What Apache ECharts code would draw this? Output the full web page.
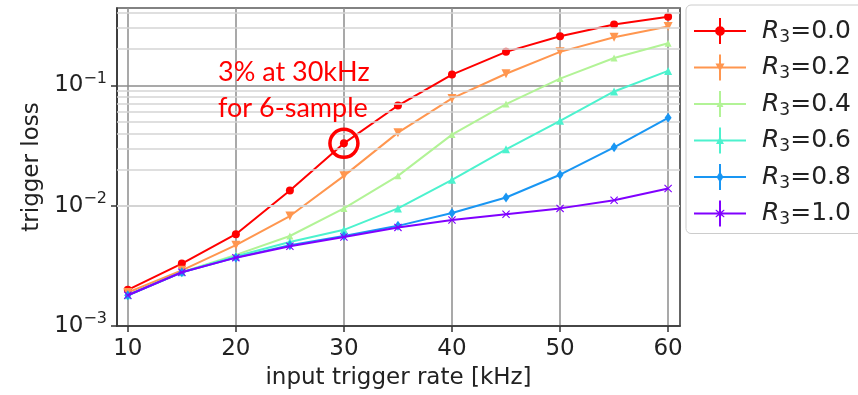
<!DOCTYPE html>
<html>
<head>
<meta charset="utf-8">
<script src="https://cdn.jsdelivr.net/npm/echarts@6/dist/echarts.min.js"></script>
<style>
html, body { margin: 0; padding: 0; background: #fff; }
#chart { width: 858px; height: 395px; }
</style>
</head>
<body>
<div id="chart"></div>
<script>
// input trigger rate (kHz)
var rates = [10, 15, 20, 25, 30, 35, 40, 45, 50, 55, 60];
var xTicks = [10, 20, 30, 40, 50, 60];
var names = ['0.0', '0.2', '0.4', '0.6', '0.8', '1.0'];

// trigger loss, one list per R3 value
var loss00 = [0.0020, 0.0033, 0.0058, 0.0134, 0.033, 0.068, 0.123, 0.190, 0.256, 0.321, 0.372];
var loss02 = [0.0019, 0.0029, 0.0047, 0.0082, 0.0177, 0.0405, 0.078, 0.125, 0.190, 0.251, 0.309];
var loss04 = [0.0018, 0.0028, 0.0039, 0.0056, 0.0095, 0.0177, 0.039, 0.070, 0.114, 0.169, 0.224];
var loss06 = [0.0018, 0.0028, 0.0038, 0.0050, 0.0063, 0.0095, 0.0164, 0.0294, 0.0508, 0.089, 0.132];
var loss08 = [0.0018, 0.0028, 0.0037, 0.0047, 0.0056, 0.0068, 0.0087, 0.0117, 0.0181, 0.0306, 0.0538];
var loss10 = [0.0018, 0.0028, 0.0037, 0.0046, 0.0055, 0.0066, 0.0076, 0.0085, 0.0095, 0.0111, 0.0139];

// minor log grid lines
var minorY = [0.002, 0.003, 0.004, 0.005, 0.006, 0.007, 0.008, 0.009,
              0.02, 0.03, 0.04, 0.05, 0.06, 0.07, 0.08, 0.09,
              0.2, 0.3, 0.4];

var colors = ['#ff0000', '#ff964f', '#b2f396', '#4cf2ce', '#1996f3', '#8000ff'];
var lists = [loss00, loss02, loss04, loss06, loss08, loss10];

var xMark = 'path://M1,0L5,4L9,0L10,1L6,5L10,9L9,10L5,6L1,10L0,9L4,5L0,1Z';
var symbols = ['circle', 'triangle', 'triangle', 'triangle', 'diamond', xMark];
var symbolSizes = [8, 9, 7, 8, [7, 10], 8];
var rotates = [0, 180, 0, 0, 0, 0];

// legend icons: errorbar cross + marker
var bar = 'M0,12L52,12L52,14L0,14Z M25,0L27,0L27,26L25,26Z';
var icons = [
    'path://' + bar + ' M26,8L28.5,8.7L30.3,10.5L31,13L30.3,15.5L28.5,17.3L26,18L23.5,17.3L21.7,15.5L21,13L21.7,10.5L23.5,8.7Z',
    'path://' + bar + ' M21.5,9L30.5,9L26,17Z',
    'path://' + bar + ' M26,9.5L29.5,16L22.5,16Z',
    'path://' + bar + ' M26,9L30,16.5L22,16.5Z',
    'path://' + bar + ' M26,7.5L29.5,13L26,18.5L22.5,13Z',
    'path://' + bar + ' M22,9L26,12L30,9L30.5,10L27,13L30.5,16L30,17L26,14L22,17L21.5,16L25,13L21.5,10Z'
];

var series = [{
    name: 'grid',
    type: 'line',
    data: [],
    silent: true,
    z: 1,
    markLine: {
        silent: true,
        symbol: 'none',
        label: { show: false },
        lineStyle: { color: '#d4d4d4', width: 1.5, type: 'solid' },
        data: minorY.map(function (v) { return { yAxis: v }; })
    }
}];

for (var i = 0; i < lists.length; i++) {
    series.push({
        name: 'R3=' + names[i],
        type: 'line',
        data: rates.map(function (r, j) { return [r, this[j]]; }, lists[i]),
        symbol: symbols[i],
        symbolSize: symbolSizes[i],
        symbolRotate: rotates[i],
        showSymbol: true,
        lineStyle: { color: colors[i], width: 2 },
        itemStyle: { color: colors[i] },
        z: 3 + i
    });
}

// highlight circle at 30 kHz
series[1].markPoint = {
    silent: true,
    symbol: 'circle',
    symbolSize: 28,
    itemStyle: { color: 'rgba(0,0,0,0)', borderColor: '#ff0000', borderWidth: 3.5 },
    label: { show: false },
    data: [{ coord: [30, loss00[4]] }]
};

var myChart = echarts.init(document.getElementById('chart'));
var option = {
    animation: false,
    textStyle: { fontFamily: 'DejaVu Sans' },
    grid: {
        left: 117, right: 178, top: 8, bottom: 63,
        show: true, borderColor: '#333', borderWidth: 1.5
    },
    legend: {
        orient: 'vertical',
        left: 686, top: 5,
        padding: [13, 20, 5, 8],
        borderColor: '#cccccc', borderWidth: 1, borderRadius: 5,
        itemWidth: 52, itemHeight: 26, itemGap: 8.5,
        data: names.map(function (n, i) { return { name: 'R3=' + n, icon: icons[i] }; }),
        formatter: function (name) {
            return '{i|R}{s|3}{t|' + name.slice(2) + '}';
        },
        textStyle: {
            color: '#222',
            rich: {
                i: { fontSize: 25, fontStyle: 'italic', fontFamily: 'DejaVu Sans', color: '#222', padding: [0, 0, 0, 11] },
                s: { fontSize: 17, fontFamily: 'DejaVu Sans', color: '#222', padding: [13, 0, 0, 0] },
                t: { fontSize: 25, fontFamily: 'DejaVu Sans', color: '#222' }
            }
        }
    },
    xAxis: {
        type: 'value',
        min: 9, max: 61.1,
        name: 'input trigger rate [kHz]',
        nameLocation: 'middle',
        nameGap: 41,
        nameTextStyle: { fontSize: 23, color: '#222', fontFamily: 'DejaVu Sans' },
        axisLine: { show: true, onZero: false, lineStyle: { color: '#333', width: 1.5 } },
        axisTick: { show: true, length: 6, customValues: xTicks, lineStyle: { color: '#333', width: 1.5 } },
        axisLabel: { customValues: xTicks, fontSize: 23, color: '#222', margin: 12, fontFamily: 'DejaVu Sans' },
        splitLine: { show: true, lineStyle: { color: '#8c8c8c', width: 1.5 } }
    },
    yAxis: {
        type: 'log',
        logBase: 10,
        min: 0.001, max: 0.44,
        name: 'trigger loss',
        nameLocation: 'middle',
        nameGap: 67,
        nameTextStyle: { fontSize: 23, color: '#222', fontFamily: 'DejaVu Sans' },
        axisLine: { show: true, lineStyle: { color: '#333', width: 1.5 } },
        axisTick: { show: true, length: 6, lineStyle: { color: '#333', width: 1.5 } },
        axisLabel: {
            showMaxLabel: false,
            margin: 10,
            formatter: function (v) {
                var e = Math.round(Math.log10(v));
                return '{b|10}{e|\u2212' + (-e) + '}';
            },
            rich: {
                b: { fontSize: 23, color: '#222', fontFamily: 'DejaVu Sans' },
                e: { fontSize: 16, color: '#222', fontFamily: 'DejaVu Sans', padding: [0, 0, 14, 0] }
            }
        },
        splitLine: { show: true, lineStyle: { color: '#8c8c8c', width: 1.5 } }
    },
    graphic: [{
        type: 'text',
        left: 218, top: 54,
        z: 100,
        style: {
            text: '3% at 30kHz\nfor 6-sample',
            fill: '#ff0000',
            font: '27px Lato',
            lineHeight: 36
        }
    }],
    series: series
};
myChart.setOption(option);
</script>
</body>
</html>
